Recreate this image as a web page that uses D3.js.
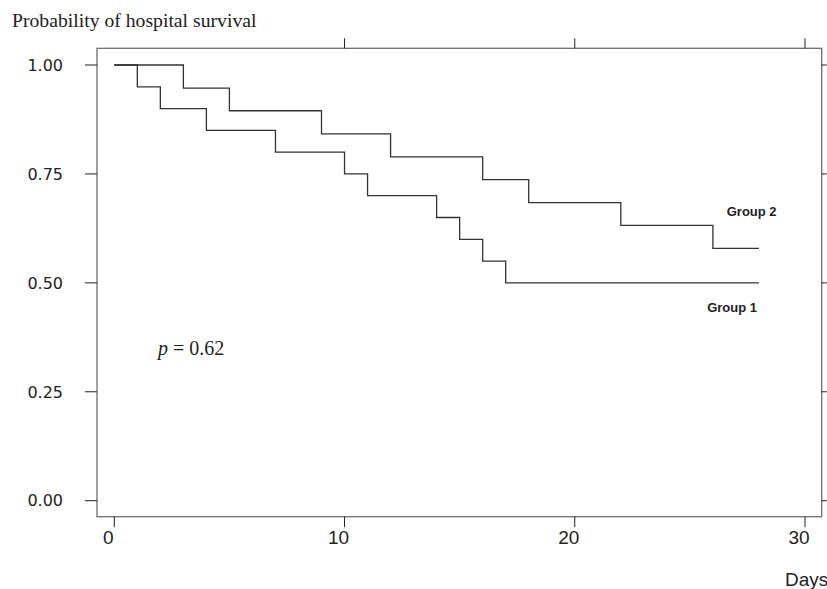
<!DOCTYPE html>
<html>
<head>
<meta charset="utf-8">
<script src="https://cdn.jsdelivr.net/npm/d3@7"></script>
<style>
  body { margin: 0; background: #fff; }
  svg { display: block; }
</style>
</head>
<body>
<script>
// Kaplan-Meier steps
const group1Days = [0, 1, 2, 4, 7, 10, 11, 14, 15, 16, 17, 28]
const group1Surv = [1, 0.95, 0.90, 0.85, 0.80, 0.75, 0.70, 0.65, 0.60, 0.55, 0.50, 0.50]
const group2Days = [0, 3, 5, 9, 12, 16, 18, 22, 26, 28]
const group2Surv = [1, 0.947, 0.895, 0.842, 0.789, 0.737, 0.684, 0.632, 0.579, 0.579]

const xTicks = [0, 10, 20, 30]
const topTicks = [10, 20, 30]
const yTicks = [0, 0.25, 0.5, 0.75, 1]

const width = 827
const height = 589

const x = d3.scaleLinear().domain([0, 30]).range([114.3, 805])
const y = d3.scaleLinear().domain([0, 1]).range([500.7, 65])

const frame = { left: 97, right: 821.7, top: 48.3, bottom: 516.7 }
const ink = "#333"
const frameInk = "#6e6e6e"

const svg = d3.select("body").append("svg")
    .attr("width", width)
    .attr("height", height)

// frame
svg.append("rect")
    .attr("x", frame.left)
    .attr("y", frame.top)
    .attr("width", frame.right - frame.left)
    .attr("height", frame.bottom - frame.top)
    .attr("fill", "none")
    .attr("stroke", frameInk)
    .attr("stroke-width", 1.3)

// bottom axis
const bottom = svg.append("g")
bottom.selectAll("line")
    .data(xTicks)
    .enter()
    .append("line")
    .attr("x1", d => x(d))
    .attr("x2", d => x(d))
    .attr("y1", frame.bottom)
    .attr("y2", frame.bottom + 10.5)
    .attr("stroke", "#222")
    .attr("stroke-width", 1)
bottom.selectAll("text")
    .data(xTicks)
    .enter()
    .append("text")
    .attr("x", d => x(d) - 6)
    .attr("y", 544)
    .attr("text-anchor", "middle")
    .style("font-family", "Liberation Sans, Arial, sans-serif")
    .style("font-size", "19px")
    .attr("fill", "#222")
    .text(d => d)

// top ticks
svg.append("g")
    .selectAll("line")
    .data(topTicks)
    .enter()
    .append("line")
    .attr("x1", d => x(d))
    .attr("x2", d => x(d))
    .attr("y1", frame.top)
    .attr("y2", frame.top - 10)
    .attr("stroke", "#222")
    .attr("stroke-width", 1)

// left axis
const left = svg.append("g")
left.selectAll("line")
    .data(yTicks)
    .enter()
    .append("line")
    .attr("x1", frame.left - 12)
    .attr("x2", frame.left)
    .attr("y1", d => y(d))
    .attr("y2", d => y(d))
    .attr("stroke", "#222")
    .attr("stroke-width", 1)
left.selectAll("text")
    .data(yTicks)
    .enter()
    .append("text")
    .attr("x", 63)
    .attr("y", d => y(d))
    .attr("dy", "0.36em")
    .attr("text-anchor", "end")
    .style("font-family", "DejaVu Sans, sans-serif")
    .style("font-size", "16px")
    .attr("fill", "#222")
    .text(d3.format(".2f"))

// right ticks
svg.append("g")
    .selectAll("line")
    .data(yTicks)
    .enter()
    .append("line")
    .attr("x1", frame.right)
    .attr("x2", frame.right + 5)
    .attr("y1", d => y(d))
    .attr("y2", d => y(d))
    .attr("stroke", "#222")
    .attr("stroke-width", 1)

// survival curves
const step = d3.line()
    .x(d => x(d[0]))
    .y(d => y(d[1]))
    .curve(d3.curveStepAfter)

const curves = [
    d3.zip(group1Days, group1Surv),
    d3.zip(group2Days, group2Surv)
]

svg.append("g")
    .attr("fill", "none")
    .attr("stroke", ink)
    .attr("stroke-width", 1.3)
    .selectAll("path")
    .data(curves)
    .enter()
    .append("path")
    .attr("d", step)

// labels
const labels = [
    { text: "Group 2", day: 26.6, surv: 0.653 },
    { text: "Group 1", day: 25.75, surv: 0.433 }
]
svg.append("g")
    .selectAll("text")
    .data(labels)
    .enter()
    .append("text")
    .attr("x", d => x(d.day))
    .attr("y", d => y(d.surv))
    .style("font-family", "Liberation Sans, Arial, sans-serif")
    .style("font-size", "13px")
    .style("font-weight", "bold")
    .attr("fill", "#222")
    .text(d => d.text)

// p value
const pText = svg.append("text")
    .attr("x", x(1.9))
    .attr("y", y(0.334))
    .style("font-family", "Liberation Serif, Times New Roman, serif")
    .style("font-size", "20px")
    .attr("fill", "#222")
pText.append("tspan").style("font-style", "italic").text("p")
pText.append("tspan").text(" = 0.62")

// titles
svg.append("text")
    .attr("x", 12)
    .attr("y", 27)
    .style("font-family", "Liberation Serif, Times New Roman, serif")
    .style("font-size", "19.7px")
    .attr("fill", "#222")
    .text("Probability of hospital survival")

svg.append("text")
    .attr("x", 785)
    .attr("y", 586)
    .style("font-family", "Liberation Sans, Arial, sans-serif")
    .style("font-size", "19px")
    .attr("fill", "#222")
    .text("Days")
</script>
</body>
</html>
